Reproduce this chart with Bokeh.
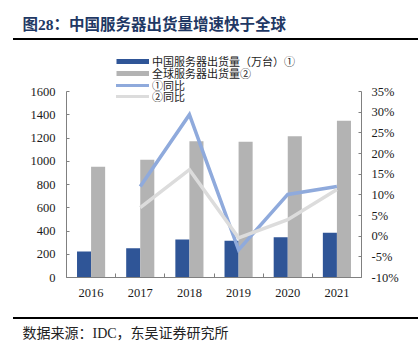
from bokeh.plotting import figure
from bokeh.layouts import column, row
from bokeh.models import (Range1d, LinearAxis, FixedTicker, Label, Div, Spacer,
                          Legend, LegendItem, ColumnDataSource)
from bokeh.embed import file_html
from bokeh.resources import INLINE

# ---------------- data ----------------
years = ["2016", "2017", "2018", "2019", "2020", "2021"]
china_units = [223, 252, 326, 316, 346, 384]        # 中国服务器出货量（万台）
global_units = [952, 1012, 1173, 1167, 1216, 1348]  # 全球服务器出货量
china_yoy = [float("nan"), 12.0, 29.4, -3.3, 10.1, 12.0]   # ①同比 (%)
global_yoy = [float("nan"), 6.9, 16.1, -0.4, 4.0, 11.3]    # ②同比 (%)
left_ticks = [0, 200, 400, 600, 800, 1000, 1200, 1400, 1600]
right_ticks = [-10, -5, 0, 5, 10, 15, 20, 25, 30, 35]

title_text = "图28：中国服务器出货量增速快于全球"
source_text = "数据来源：IDC，东吴证券研究所"
legend_labels = ["中国服务器出货量（万台）①", "全球服务器出货量②", "①同比", "②同比"]

# ---------------- styles ----------------
C_CHINA = "#2F5597"
C_GLOBAL = "#B3B3B3"
C_YOY1 = "#8FAADC"
C_YOY2 = "#DCDCDC"
AXIS_C = "#808080"
NUM_FONT = "Liberation Serif"
MIX_FONT = "Liberation Serif, Noto Sans CJK SC"
W = 418
HEAD_H = 38
GAP_H = 8
MAIN_H = 269
FOOT_H = 31
RULE_H = 2
RULE_L = 13
FRAME_L = 66
FRAME_R = 361


def blank(h):
    f = figure(width=W, height=h, output_backend="svg", toolbar_location=None,
               x_range=Range1d(0, W), y_range=Range1d(h, 0),
               x_axis_type=None, y_axis_type=None,
               min_border=0, min_border_left=0, min_border_right=0,
               min_border_top=0, min_border_bottom=0)
    f.outline_line_color = None
    f.xgrid.visible = False
    f.ygrid.visible = False
    f.background_fill_color = "white"
    f.border_fill_color = "white"
    return f


def rule():
    return Div(text="", width=W - RULE_L, height=RULE_H, margin=(0, 0, 0, RULE_L),
               styles={"background-color": "black"})


# ---------------- header ----------------
head = blank(HEAD_H)
head.add_layout(Label(x=22, y=24, text=title_text,
                      text_font=MIX_FONT, text_font_size="15.5px", text_font_style="bold",
                      text_color="#1F3864", text_baseline="middle"))

# ---------------- main chart ----------------
centers = [i + 0.5 for i in range(len(years))]
src = ColumnDataSource(dict(
    xc=centers,
    x1=[c - 0.143 for c in centers],
    x2=[c + 0.143 for c in centers],
    china=china_units, glob=global_units,
    yoy1=china_yoy, yoy2=global_yoy,
))

FRAME_H = 229
SCALE_PX = 186
left_end = 1600 * FRAME_H / SCALE_PX
right_end = -10 + 45 * FRAME_H / SCALE_PX

p = figure(width=W, height=MAIN_H, output_backend="svg", toolbar_location=None,
           x_range=Range1d(0, len(years)), y_range=Range1d(0, left_end),
           min_border_left=FRAME_L, min_border_right=W - FRAME_R, min_border_top=0,
           min_border_bottom=MAIN_H - FRAME_H)
p.outline_line_color = None
p.xgrid.visible = False
p.ygrid.visible = False

p.extra_y_ranges = {"pct": Range1d(-10, right_end)}

p.vbar(x="x1", top="china", width=0.286, source=src, fill_color=C_CHINA, line_color=None)
p.vbar(x="x2", top="glob", width=0.286, source=src, fill_color=C_GLOBAL, line_color=None)
p.line(x="xc", y="yoy1", source=src, y_range_name="pct", line_color=C_YOY1,
       line_width=3.5, line_join="miter")
p.line(x="xc", y="yoy2", source=src, y_range_name="pct", line_color=C_YOY2,
       line_width=3.5, line_join="miter")

# legend proxies (thin bar swatches like the original)
nan_src = ColumnDataSource(dict(x=[float("nan")], y=[float("nan")]))
proxies = [
    p.line("x", "y", source=nan_src, line_color=C_CHINA, line_width=5),
    p.line("x", "y", source=nan_src, line_color=C_GLOBAL, line_width=5),
    p.line("x", "y", source=nan_src, line_color=C_YOY1, line_width=3, line_cap="round"),
    p.line("x", "y", source=nan_src, line_color=C_YOY2, line_width=3, line_cap="round"),
]
FRAME_BOTTOM_ABS = 277
row_centers_abs = [61.0, 72.8, 84.5, 96.2]
ROW_H = 22
for lab, rend, rc in zip(legend_labels, proxies, row_centers_abs):
    lg = Legend(items=[LegendItem(label=lab, renderers=[rend])],
                location=(50, FRAME_BOTTOM_ABS - rc - ROW_H / 2))
    lg.background_fill_alpha = 0
    lg.border_line_color = None
    lg.padding = 0
    lg.margin = 0
    lg.spacing = 0
    lg.glyph_width = 33
    lg.glyph_height = ROW_H
    lg.label_height = ROW_H
    lg.label_standoff = 3
    lg.label_text_font = MIX_FONT
    lg.label_text_font_size = "11px"
    lg.label_text_color = "#222222"
    p.add_layout(lg, "center")

# x axis: year labels at centers, ticks at category boundaries
xa = p.xaxis[0]
xa.ticker = FixedTicker(ticks=centers, minor_ticks=list(range(len(years) + 1)))
xa.major_label_overrides = {c: y for c, y in zip(centers, years)}
xa.major_tick_line_color = None
xa.minor_tick_in = 4
xa.minor_tick_out = 0
xa.minor_tick_line_color = AXIS_C
xa.axis_line_color = AXIS_C
xa.major_label_standoff = 5
xa.major_label_text_font = NUM_FONT
xa.major_label_text_font_size = "12.5px"
xa.major_label_text_color = "#1a1a1a"

ya = p.yaxis[0]
ya.ticker = FixedTicker(ticks=left_ticks)
ya.bounds = (0, 1600)
ya.major_tick_in = 3
ya.major_tick_out = 0
ya.minor_tick_line_color = None
ya.axis_line_color = AXIS_C
ya.major_tick_line_color = AXIS_C
ya.major_label_standoff = 11
ya.major_label_text_font = NUM_FONT
ya.major_label_text_font_size = "12.5px"
ya.major_label_text_color = "#1a1a1a"

ra = LinearAxis(y_range_name="pct")
ra.ticker = FixedTicker(ticks=right_ticks)
ra.bounds = (-10, 35)
ra.major_label_overrides = {t: f"{t}%" for t in right_ticks}
ra.major_tick_in = 3
ra.major_tick_out = 0
ra.minor_tick_line_color = None
ra.axis_line_color = AXIS_C
ra.major_tick_line_color = AXIS_C
ra.major_label_standoff = 10
ra.major_label_text_font = NUM_FONT
ra.major_label_text_font_size = "12.5px"
ra.major_label_text_color = "#1a1a1a"
p.add_layout(ra, "right")

# ---------------- footer ----------------
foot = blank(FOOT_H)
foot.add_layout(Label(x=22, y=14, text=source_text,
                      text_font=MIX_FONT, text_font_size="14px",
                      text_color="#222222", text_baseline="middle"))

layout = column(row(head), rule(), Spacer(width=W, height=GAP_H), p, rule(), row(foot),
                spacing=0)
open("out.html", "w").write(file_html(layout, INLINE))
